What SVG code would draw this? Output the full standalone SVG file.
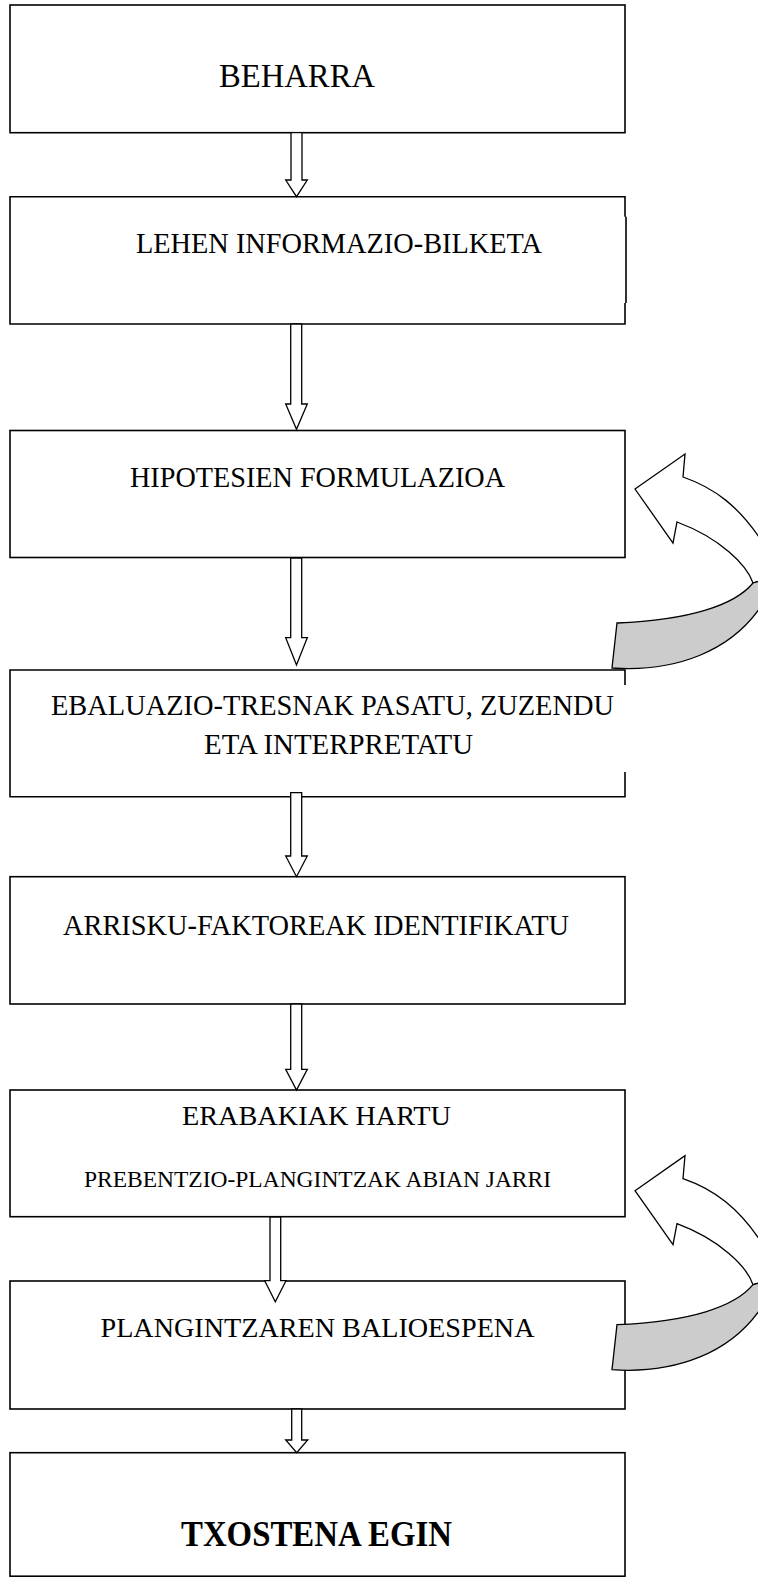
<svg xmlns="http://www.w3.org/2000/svg" width="758" height="1577" viewBox="0 0 758 1577">
<style>
.box{fill:#fff;stroke:#000;stroke-width:1.6}
.edge{fill:none;stroke:#000;stroke-width:1.6}
.arr{fill:#fff;stroke:#000;stroke-width:1.3;stroke-linejoin:miter}
.back{fill:#cccccc;stroke:#000;stroke-width:1.3}
.t{font-family:"Liberation Serif","Times New Roman",serif;fill:#000}
</style>
<defs>
<g id="loop">
<path class="arr" d="M635,489 L685,454 L683,477 C712,487 740,505 766,548 L770,578 L753,583 C747,565 720,538 677,522 L673,543 Z"/>
<path class="back" d="M753,583 C735,605 690,620 617,623 L612,668 C670,672 735,655 768,595 L770,578 Z"/>
</g>
</defs>
<rect width="758" height="1577" fill="#fff"/>
<g id="n1">
<rect class="box" x="10" y="5" width="615" height="127.7"/>
<text class="t" x="219" y="87.3" font-size="34" textLength="156" lengthAdjust="spacingAndGlyphs">BEHARRA</text>
</g>
<g id="n2">
<path class="edge" d="M625,216.7 L625,196.7 L10,196.7 L10,324 L625,324 L625,303 M626,216.7 L626,303"/>
<text class="t" x="136" y="252.7" font-size="29" textLength="406" lengthAdjust="spacingAndGlyphs">LEHEN INFORMAZIO-BILKETA</text>
</g>
<g id="n3">
<rect class="box" x="10" y="430.5" width="615" height="127"/>
<text class="t" x="130" y="486.7" font-size="30" textLength="375" lengthAdjust="spacingAndGlyphs">HIPOTESIEN FORMULAZIOA</text>
</g>
<g id="n4">
<path class="edge" d="M625,685 L625,670 L10,670 L10,796.7 L625,796.7 L625,772"/>
<text class="t" x="51" y="715" font-size="30" textLength="563" lengthAdjust="spacingAndGlyphs">EBALUAZIO-TRESNAK PASATU, ZUZENDU</text>
<text class="t" x="204" y="754" font-size="30" textLength="269" lengthAdjust="spacingAndGlyphs">ETA INTERPRETATU</text>
</g>
<g id="n5">
<rect class="box" x="10" y="876.7" width="615" height="127.3"/>
<text class="t" x="63" y="935" font-size="30" textLength="506" lengthAdjust="spacingAndGlyphs">ARRISKU-FAKTOREAK IDENTIFIKATU</text>
</g>
<g id="n6">
<rect class="box" x="10" y="1090" width="615" height="126.7"/>
<text class="t" x="182" y="1125" font-size="28" textLength="269" lengthAdjust="spacingAndGlyphs">ERABAKIAK HARTU</text>
<text class="t" x="84" y="1187.3" font-size="24" textLength="467" lengthAdjust="spacingAndGlyphs">PREBENTZIO-PLANGINTZAK ABIAN JARRI</text>
</g>
<g id="n7">
<rect class="box" x="10" y="1281" width="615" height="128"/>
<text class="t" x="100.5" y="1336.7" font-size="28" textLength="434" lengthAdjust="spacingAndGlyphs">PLANGINTZAREN BALIOESPENA</text>
</g>
<g id="n8">
<rect class="box" x="10" y="1452.7" width="615" height="123.5"/>
<text class="t" x="181" y="1546" font-size="35" font-weight="bold" textLength="271" lengthAdjust="spacingAndGlyphs">TXOSTENA EGIN</text>
</g>
<g id="connectors">
<path class="arr" d="M291,132.7 L291,180 L285.7,180 L296.5,196.7 L307.3,180 L302,180 L302,132.7 Z"/>
<path class="arr" d="M290.7,324 L290.7,404 L285.7,404 L296.5,429.3 L307.3,404 L301.7,404 L301.7,324 Z"/>
<path class="arr" d="M290.7,558 L290.7,637.7 L285.7,637.7 L296.5,665 L307.3,637.7 L301.7,637.7 L301.7,558 Z"/>
<path class="arr" d="M290.7,792.7 L290.7,856 L285.7,856 L296.5,876.7 L307.3,856 L301.7,856 L301.7,792.7 Z"/>
<path class="arr" d="M290.7,1004 L290.7,1069.3 L285.7,1069.3 L296.5,1090 L307.3,1069.3 L301.7,1069.3 L301.7,1004 Z"/>
<path class="arr" d="M270,1217 L270,1280.7 L264.7,1280.7 L275.3,1301.7 L286,1280.7 L280.7,1280.7 L280.7,1217 Z"/>
<path class="arr" d="M291.7,1409 L291.7,1440 L285.7,1440 L296.7,1452.7 L307.7,1440 L301.7,1440 L301.7,1409 Z"/>
<use href="#loop"/>
<use href="#loop" transform="translate(0,701.7)"/>
</g>
</svg>
